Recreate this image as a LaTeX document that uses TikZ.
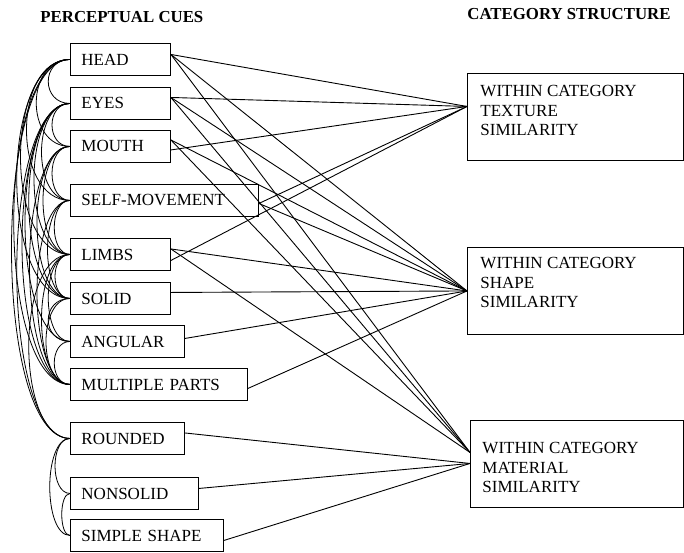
\documentclass[tikz,border=0pt]{standalone}
\usepackage{fontspec}
\setmainfont{Liberation Serif}
\begin{document}
\begin{tikzpicture}[x=1pt,y=-1pt,line width=0.9pt,
  cue/.style={draw,anchor=north west,inner xsep=11pt,inner ysep=0pt,minimum height=32pt,align=left,font=\fontsize{17}{19}\selectfont},
  catbox/.style={draw,anchor=north west,inner sep=0pt,minimum width=216pt,minimum height=87pt},
  cattext/.style={anchor=north west,inner sep=0pt,align=left,font=\fontsize{17}{19.5}\selectfont},
  title/.style={anchor=west,inner sep=0pt,font=\fontsize{16.8}{18}\selectfont\bfseries},
  link/.style={line width=0.9pt},
  tie/.style={line width=0.8pt}]
\useasboundingbox (0,0) rectangle (684,552);
% titles
\node[title] (t1) at (40,17) {PERCEPTUAL CUES};
\node[title] (t2) at (467,14) {CATEGORY STRUCTURE};
% left cue boxes
\node[cue,text width=78pt]  (head)  at (70,43)  {HEAD};
\node[cue,text width=78pt]  (eyes)  at (70,87)  {EYES};
\node[cue,text width=78pt]  (mouth) at (70,130) {MOUTH};
\node[cue,text width=166pt] (self)  at (70,184) {SELF-MOVEMENT};
\node[cue,text width=78pt]  (limbs) at (70,238) {LIMBS};
\node[cue,text width=78pt]  (solid) at (70,282) {SOLID};
\node[cue,text width=92pt]  (ang)   at (70,325) {ANGULAR};
\node[cue,text width=155pt] (multi) at (70,368) {MULTIPLE PARTS};
\node[cue,text width=92pt]  (round) at (70,422) {ROUNDED};
\node[cue,text width=106pt] (nons)  at (70,477) {NONSOLID};
\node[cue,text width=131pt] (simp)  at (70,519) {SIMPLE SHAPE};
% right category boxes
\node[catbox] (T) at (467,73) {};
\node[cattext] (Tt) at (480,85) {WITHIN CATEGORY\\TEXTURE\\SIMILARITY};
\node[catbox] (M) at (467,247) {};
\node[cattext] (Mt) at (480,257) {WITHIN CATEGORY\\SHAPE\\SIMILARITY};
\node[catbox,minimum width=213pt] (B) at (470,420) {};
\node[cattext] (Bt) at (482,442) {WITHIN CATEGORY\\MATERIAL\\SIMILARITY};
% ports on the right boxes
\coordinate (tin) at ([yshift=10.5pt]T.west);
\coordinate (min) at (M.west);
\coordinate (bin) at ([yshift=11.5pt]B.west);
\coordinate (bin2) at ([yshift=0.5pt]B.west);
% ports on the left boxes
\coordinate (headp) at ([yshift=5pt]head.east);
\coordinate (eyesp) at ([yshift=6pt]eyes.east);
\coordinate (moutha) at ([yshift=6.5pt]mouth.east);
\coordinate (mouthb) at ([yshift=-3.5pt]mouth.east);
\coordinate (selfp) at ([yshift=-3pt]self.east);
\coordinate (limbsa) at ([yshift=5.5pt]limbs.east);
\coordinate (limbsb) at ([yshift=-6pt]limbs.east);
% connectors to texture
\foreach \s in {headp,eyesp,mouthb,selfp,limbsb} \draw[link] (\s) -- (tin);
% connectors to shape
\foreach \s in {headp,eyesp,moutha,selfp,limbsa} \draw[link] (\s) -- (min);
\draw[link] ([yshift=6pt]solid.east) -- (min);
\draw[link] ([yshift=3pt]ang.east) -- (min);
\draw[link] ([yshift=-4pt]multi.east) -- (min);
% connectors to material
\foreach \s in {headp,eyesp,moutha,limbsa} \draw[link] (\s) -- (bin);
\draw[link] ([yshift=5.5pt]round.east) -- (bin2);
\draw[link] ([yshift=5pt]nons.east) -- (bin2);
\draw[link] ([yshift=-5pt]simp.east) -- (bin2);
% intercorrelations among cues
\foreach \a/\b/\d in {head/eyes/29,head/mouth/45,head/self/58,head/limbs/66,head/solid/71,head/multi/75,head/round/78,
  eyes/mouth/24,eyes/self/38,eyes/limbs/48,eyes/solid/55,eyes/ang/60,eyes/multi/64,eyes/round/71,
  mouth/self/24,mouth/limbs/36,mouth/solid/44,mouth/multi/54,
  self/limbs/21,self/solid/30,self/multi/44,
  limbs/solid/20,limbs/ang/29,limbs/multi/38,limbs/round/55,
  solid/ang/29,solid/multi/32,ang/multi/21,
  round/nons/20,round/simp/27,nons/simp/11}
  \draw[tie] (\a.west) .. controls +(-\d,0) and +(-\d,0) .. (\b.west);
\end{tikzpicture}
\end{document}
